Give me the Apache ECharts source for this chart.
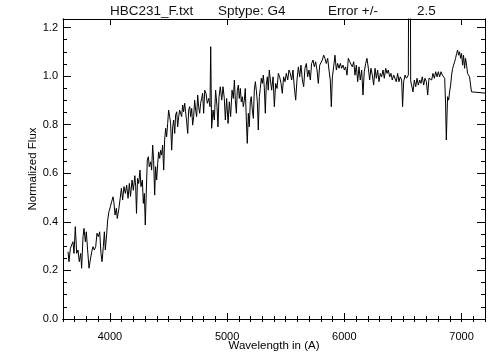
<!DOCTYPE html>
<html><head><meta charset="utf-8">
<script src="https://cdn.jsdelivr.net/npm/echarts@6/dist/echarts.min.js"></script>
<style>html,body{margin:0;padding:0;background:#fff}#c{width:504px;height:360px}</style>
</head><body><div id="c"></div>
<script>
const wavelength = [
3643,3651,3663,3674,3685,3694,3705,3717,3728,3739,
3751,3759,3771,3779,3791,3799,3810,3822,3833,3845,
3856,3867,3879,3890,3901,3913,3924,3933,3944,3953,
3961,3973,3981,3992,4004,4015,4027,4035,4044,4055,
4063,4075,4086,4098,4109,4120,4132,4143,4155,4166,
4176,4189,4200,4213,4220,4227,4236,4246,4257,4265,
4277,4285,4294,4302,4311,4319,4328,4336,4348,4356,
4365,4373,4382,4390,4399,4408,4416,4425,4433,4442,
4450,4459,4467,4476,4484,4493,4501,4510,4518,4527,
4536,4544,4553,4561,4570,4578,4587,4595,4604,4612,
4621,4629,4638,4646,4655,4664,4672,4681,4689,4698,
4706,4715,4723,4732,4740,4749,4757,4766,4774,4783,
4791,4800,4809,4820,4831,4843,4854,4860,4868,4880,
4891,4902,4914,4922,4931,4942,4954,4965,4976,4985,
4996,5008,5019,5030,5042,5053,5062,5070,5079,5087,
5096,5104,5113,5121,5130,5138,5147,5155,5164,5172,
5181,5189,5198,5206,5215,5224,5232,5241,5249,5258,
5266,5275,5283,5292,5300,5309,5317,5326,5334,5343,
5351,5360,5369,5380,5392,5403,5414,5426,5437,5448,
5460,5471,5482,5494,5505,5517,5528,5539,5551,5562,
5573,5585,5596,5608,5619,5630,5642,5653,5664,5676,
5687,5698,5710,5721,5733,5744,5755,5767,5778,5790,
5801,5812,5824,5835,5846,5858,5869,5880,5889,5898,
5909,5920,5932,5943,5955,5966,5977,5989,6000,6011,
6023,6034,6046,6057,6068,6080,6091,6102,6114,6125,
6136,6148,6159,6170,6182,6193,6205,6216,6227,6239,
6250,6262,6273,6284,6296,6307,6318,6330,6341,6353,
6364,6375,6387,6398,6409,6421,6432,6443,6455,6466,
6477,6489,6497,6506,6518,6529,6546,6556,6566,6574,
6586,6597,6609,6620,6631,6643,6654,6665,6677,6688,
6700,6711,6722,6734,6745,6756,6768,6779,6791,6802,
6813,6825,6836,6847,6856,6864,6870,6876,6881,6890,
6898,6907,6915,6924,6932,6941,6949,6958,6966,6975,
6983,6992,7000,7009,7017,7026,7034,7043,7051,7060,
7068,7077,7085,7094,7200
];
const flux = [
0.277,0.236,0.291,0.284,0.318,0.270,0.380,0.270,0.284,0.236,
0.270,0.209,0.339,0.373,0.318,0.359,0.284,0.209,0.243,0.277,
0.298,0.284,0.298,0.353,0.339,0.359,0.270,0.236,0.298,0.359,
0.284,0.353,0.407,0.442,0.462,0.483,0.503,0.476,0.428,0.456,
0.414,0.449,0.490,0.538,0.490,0.545,0.517,0.551,0.497,0.558,
0.505,0.572,0.530,0.590,0.545,0.435,0.579,0.558,0.613,0.545,
0.572,0.476,0.517,0.387,0.531,0.654,0.668,0.627,0.647,0.613,
0.716,0.654,0.510,0.627,0.572,0.641,0.688,0.661,0.695,0.675,
0.716,0.613,0.737,0.785,0.750,0.805,0.860,0.833,0.805,0.695,
0.791,0.819,0.764,0.840,0.853,0.791,0.833,0.860,0.867,0.833,
0.881,0.853,0.888,0.853,0.812,0.764,0.860,0.874,0.833,0.867,
0.798,0.833,0.901,0.860,0.833,0.922,0.874,0.847,0.888,0.908,
0.929,0.847,0.942,0.929,0.888,0.908,0.874,1.121,0.785,0.860,
0.819,0.942,0.874,0.791,0.915,0.956,0.901,0.956,0.908,0.819,
0.908,0.805,0.894,0.833,0.942,0.908,0.984,0.901,0.847,0.942,
0.963,0.908,0.949,0.894,0.915,0.874,0.901,0.949,0.819,0.723,
0.847,0.791,0.894,0.915,0.860,0.826,0.942,0.977,0.942,0.894,
0.778,0.915,0.949,0.991,0.970,1.004,0.956,0.847,0.963,0.997,
0.942,1.025,0.984,0.942,0.997,0.874,0.970,0.949,1.011,0.997,
0.970,0.929,0.997,0.977,1.011,0.984,1.025,1.011,0.984,1.025,
0.956,0.901,0.984,1.038,0.997,1.045,0.984,0.956,1.032,1.052,
0.997,1.025,0.984,1.052,1.066,1.038,1.059,1.025,0.970,1.045,
1.052,1.066,1.086,1.073,1.052,1.073,1.025,0.984,0.874,0.997,
1.038,1.086,1.025,1.052,1.032,1.052,1.032,1.045,1.025,1.038,
1.004,1.073,1.059,1.066,1.038,1.059,1.004,1.045,0.977,1.038,
0.984,1.025,0.922,1.018,1.052,1.073,1.032,0.984,1.032,1.004,
0.963,1.032,0.991,1.025,0.977,1.011,0.997,1.025,0.991,1.032,
1.011,1.025,0.997,1.011,0.984,1.004,0.997,0.977,1.011,0.977,
0.997,0.984,0.874,0.977,1.004,0.991,1.004,2.500,0.980,0.977,
0.935,0.984,0.956,0.991,0.963,0.984,0.970,0.997,0.963,0.991,
0.977,0.922,0.991,0.997,0.984,1.011,0.991,1.018,0.997,1.018,
0.997,1.018,1.004,1.011,0.991,0.881,0.737,0.840,0.915,0.901,
0.935,0.963,1.004,1.032,1.045,1.059,1.073,1.093,1.107,1.086,
1.100,1.073,1.093,1.045,1.086,1.032,1.073,1.045,1.011,1.004,
0.997,0.963,0.935,0.930,0.930
];
const xMajorTicks = [4000, 5000, 6000, 7000];
const yMajorTicks = [0, 0.2, 0.4, 0.6, 0.8, 1.0, 1.2];
const titleParts = ['HBC231_F.txt', 'Sptype: G4', 'Error +/-', '2.5'];
const titleLefts = [110, 218, 328, 417];

const FONT = 'Liberation Sans';
const INK = '#000';
const X_MIN = 3600, X_MAX = 7200, Y_MIN = 0, Y_MAX = 1.235;
const X_MINOR_STEP = 100, Y_MINOR_STEP = 0.05;

const points = wavelength.map((w, i) => [w, flux[i]]);
const GRID = { left: 63, right: 19, top: 19, bottom: 41, containLabel: false };
// minor-tick axes keep (invisible) labels so their ticks are generated
const ghostLabels = { show: true, color: 'rgba(0,0,0,0)', fontSize: 1 };

function xAx(pos, major, withLabel, gridIndex) {
  const a = {
    type: 'value', gridIndex: gridIndex, position: pos, min: X_MIN, max: X_MAX,
    axisLine: { show: true, lineStyle: { color: INK, width: 1 } },
    axisTick: { show: true, inside: true, length: major ? 6 : 3, lineStyle: { color: INK, width: 1 } },
    axisLabel: major ? { show: false } : Object.assign({}, ghostLabels),
    splitLine: { show: false }
  };
  if (major) { a.axisTick.customValues = xMajorTicks; a.axisLine.onZero = false; }
  else a.interval = X_MINOR_STEP;
  if (withLabel) {
    a.axisLabel = { show: true, customValues: xMajorTicks, margin: 12, fontSize: 11, color: INK, fontFamily: FONT, formatter: v => String(v) };
    a.name = 'Wavelength in (A)';
    a.nameLocation = 'middle';
    a.nameGap = 21;
    a.nameMoveOverlap = false;
    a.nameTextStyle = { fontSize: 11.5, color: INK, fontFamily: FONT };
  }
  return a;
}
function yAx(pos, major, withLabel, gridIndex) {
  const a = {
    type: 'value', gridIndex: gridIndex, position: pos, min: Y_MIN, max: Y_MAX,
    axisLine: { show: true, lineStyle: { color: INK, width: 1 } },
    axisTick: { show: true, inside: true, length: major ? 8 : 4, lineStyle: { color: INK, width: 1 } },
    axisLabel: major ? { show: false } : Object.assign({}, ghostLabels),
    splitLine: { show: false }
  };
  if (major) a.axisTick.customValues = yMajorTicks; else a.interval = Y_MINOR_STEP;
  if (withLabel) {
    a.axisLabel = { show: true, customValues: yMajorTicks, margin: 5, fontSize: 11, color: INK, fontFamily: FONT, formatter: v => Number(v).toFixed(1) };
    a.name = 'Normalized Flux';
    a.nameLocation = 'middle';
    a.nameGap = 24;
    a.nameRotate = 90;
    a.nameMoveOverlap = false;
    a.nameTextStyle = { fontSize: 11.5, color: INK, fontFamily: FONT };
  }
  return a;
}

function hiddenCarrier(idx) {
  return {
    type: 'line', data: points, xAxisIndex: idx, yAxisIndex: idx,
    symbol: 'none', showSymbol: false, silent: true, clip: true,
    lineStyle: { opacity: 0 }, z: 0
  };
}

const chart = echarts.init(document.getElementById('c'), null, { renderer: 'canvas' });
chart.setOption({
  animation: false,
  backgroundColor: '#fff',
  title: titleParts.map((t, i) => ({
    text: t, left: titleLefts[i], top: 4, padding: 0,
    textStyle: { fontSize: 13.5, fontWeight: 'normal', color: '#111', fontFamily: FONT }
  })),
  grid: [Object.assign({}, GRID), Object.assign({}, GRID), Object.assign({}, GRID)],
  xAxis: [
    xAx('bottom', true, true, 0), xAx('bottom', false, false, 1), xAx('top', false, false, 2), xAx('top', true, false, 0)
  ],
  yAxis: [
    yAx('left', true, true, 0), yAx('left', false, false, 1), yAx('right', false, false, 2), yAx('right', true, false, 0)
  ],
  series: [
    {
      type: 'line', data: points, xAxisIndex: 0, yAxisIndex: 0,
      symbol: 'none', showSymbol: false, clip: true, silent: true,
      lineStyle: { color: INK, width: 1 }, z: 5
    },
    hiddenCarrier(1),
    hiddenCarrier(2)
  ]
});
</script></body></html>
